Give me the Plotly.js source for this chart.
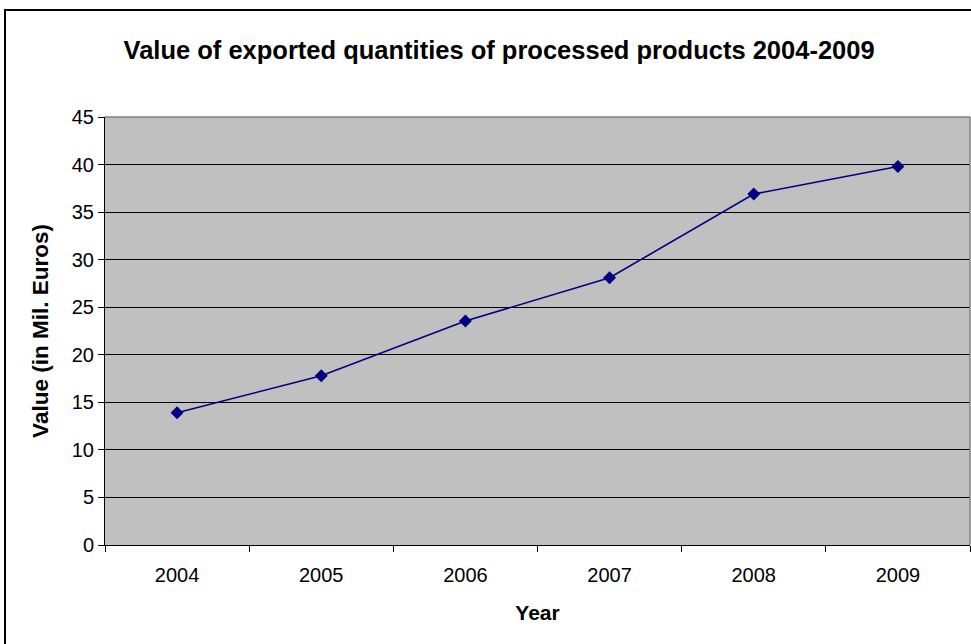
<!DOCTYPE html>
<html>
<head>
<meta charset="utf-8">
<script src="https://cdn.plot.ly/plotly-3.0.1.min.js"></script>
<style>
  html, body { margin: 0; padding: 0; background: #ffffff; }
  #chart { width: 971px; height: 644px; }
</style>
</head>
<body>
<div id="chart"></div>
<script>
// Export value of processed products, million euros
const years = ['2004', '2005', '2006', '2007', '2008', '2009'];
const values = [13.9, 17.8, 23.55, 28.1, 36.9, 39.8];
const yTicks = [0, 5, 10, 15, 20, 25, 30, 35, 40, 45];

const font = 'Arial, "Liberation Sans", sans-serif';

const trace = {
  type: 'scatter',
  mode: 'lines+markers',
  x: years,
  y: values,
  line: { color: '#000080', width: 1.6 },
  marker: { symbol: 'diamond', size: 10, color: '#000080' },
  hoverinfo: 'x+y'
};

const layout = {
  width: 971,
  height: 644,
  margin: { l: 105, r: 1, t: 117, b: 99 },
  paper_bgcolor: '#ffffff',
  plot_bgcolor: '#c0c0c0',
  showlegend: false,
  font: { family: font, color: '#000000' },
  title: {
    text: '<b>Value of exported quantities of processed products 2004-2009</b>',
    font: { family: font, size: 25.5, color: '#000000' },
    x: 0.514, xanchor: 'center',
    y: 0.922, yanchor: 'middle'
  },
  xaxis: {
    type: 'category',
    range: [-0.5, 5.5],
    tickson: 'boundaries',
    ticks: 'outside',
    ticklen: 6,
    tickcolor: '#000000',
    tickwidth: 1,
    showline: true,
    linecolor: '#000000',
    linewidth: 1,
    showgrid: false,
    zeroline: false,
    ticklabelstandoff: 12,
    tickfont: { family: font, size: 20, color: '#000000' },
    title: { text: '<b>Year</b>', font: { family: font, size: 21, color: '#000000' }, standoff: 20 }
  },
  yaxis: {
    range: [0, 45],
    tickvals: yTicks,
    ticks: 'outside',
    ticklen: 6,
    tickcolor: '#000000',
    tickwidth: 1,
    showline: true,
    linecolor: '#000000',
    linewidth: 1,
    showgrid: true,
    gridcolor: '#000000',
    gridwidth: 1,
    zeroline: false,
    tickfont: { family: font, size: 20, color: '#000000' },
    title: { text: '<b>Value (in Mil. Euros)</b>', font: { family: font, size: 22.5, color: '#000000' }, standoff: 16 }
  },
  shapes: [
    // grey frame on the top and right of the plotting area
    { type: 'line', xref: 'paper', yref: 'paper', x0: 0, x1: 1, y0: 1, y1: 1,
      line: { color: '#808080', width: 1.5 } },
    { type: 'line', xref: 'paper', yref: 'paper', x0: 1, x1: 1, y0: 0, y1: 1,
      line: { color: '#808080', width: 1.5 } },
    // outer chart border
    { type: 'rect', xref: 'paper', yref: 'paper',
      x0: -0.1156, x1: 1.1, y0: -0.3, y1: 1.25,
      line: { color: '#000000', width: 2 }, fillcolor: 'rgba(0,0,0,0)' }
  ]
};

Plotly.newPlot('chart', [trace], layout, { displayModeBar: false, staticPlot: true });
</script>
</body>
</html>
